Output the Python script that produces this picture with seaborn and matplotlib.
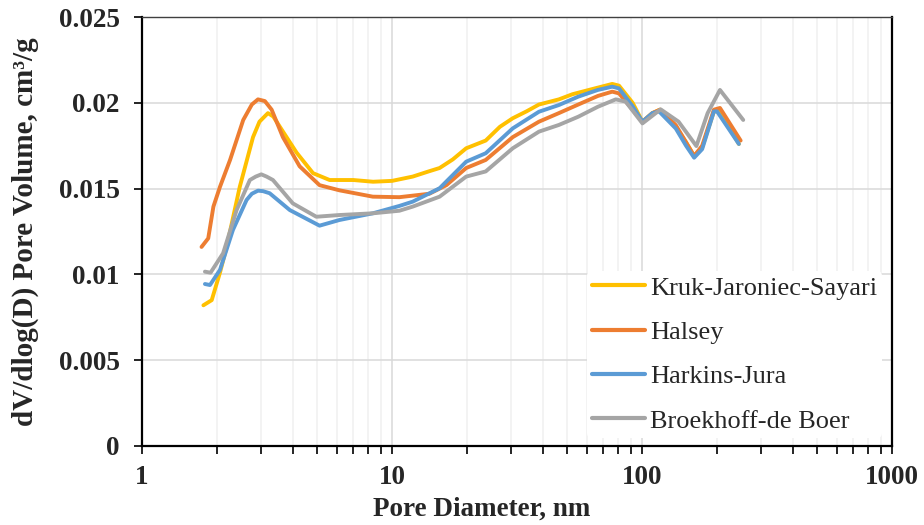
import matplotlib
matplotlib.use("Agg")
import matplotlib.pyplot as plt
import matplotlib.ticker as mticker
import seaborn as sns
import pandas as pd

# ---- data ----
kjs_x = [1.76, 1.90, 2.05, 2.18, 2.46, 2.78, 2.95, 3.19, 3.35, 3.56, 4.15, 4.83, 5.63, 7.0, 8.4,
         10.0, 12.1, 14.0, 15.5, 17.5, 19.8, 23.7, 27.0, 30.4, 34.5, 38.7, 46.5, 52.7, 63.2, 76.0,
         80.9, 91.7, 100.4, 110, 118, 136.5, 150, 161.6, 174, 193.9, 205, 244]
kjs_y = [0.0082, 0.0085, 0.0101, 0.0116, 0.0151, 0.0180, 0.0189, 0.0194, 0.0192, 0.0186, 0.0171,
         0.0159, 0.0155, 0.0155, 0.0154, 0.01545, 0.0157, 0.0160, 0.0162, 0.0167, 0.01735, 0.0178,
         0.0186, 0.0191, 0.0195, 0.0199, 0.0202, 0.0205, 0.0208, 0.0211, 0.0210, 0.0200, 0.0189,
         0.0194, 0.0196, 0.0186, 0.0177, 0.0169, 0.0174, 0.0195, 0.0195, 0.0176]

halsey_x = [1.73, 1.84, 1.93, 2.05, 2.25, 2.54, 2.75, 2.91, 3.10, 3.30, 3.66, 4.27, 5.13, 6.16,
            8.38, 10.7, 14.1, 16.5, 19.8, 23.7, 30.4, 38.7, 46.5, 55.6, 66.6, 76.0, 80.9, 91.7,
            100.4, 110, 118, 136.5, 150, 161.6, 174, 193.9, 205, 248]
halsey_y = [0.0116, 0.0121, 0.01395, 0.0151, 0.01667, 0.0190, 0.0199, 0.0202, 0.0201, 0.0196,
            0.0180, 0.0163, 0.0152, 0.0149, 0.01453, 0.0145, 0.0147, 0.0152, 0.0162, 0.01667,
            0.0180, 0.0189, 0.0194, 0.0199, 0.0204, 0.02065, 0.02055, 0.0196, 0.0189, 0.0194,
            0.0196, 0.0187, 0.0177, 0.0169, 0.0175, 0.0196, 0.0197, 0.0178]

hj_x = [1.785, 1.87, 2.05, 2.31, 2.62, 2.75, 2.91, 3.05, 3.24, 3.9, 5.13, 6.16, 8.38, 10.7, 12.1,
        15.5, 19.8, 23.7, 30.4, 38.7, 46.5, 55.6, 66.6, 76.0, 80.9, 91.7, 100.4, 110, 117, 136.5,
        150, 161.6, 174, 193.9, 199.5, 244]
hj_y = [0.00944, 0.00938, 0.01026, 0.01259, 0.01434, 0.0147, 0.01488, 0.01485, 0.01473, 0.01375,
        0.01284, 0.01317, 0.01356, 0.01399, 0.01424, 0.01502, 0.01657, 0.01706, 0.01851, 0.01948,
        0.01987, 0.02036, 0.02075, 0.02094, 0.02084, 0.0198, 0.0189, 0.0194, 0.0195, 0.0185,
        0.0175, 0.0168, 0.0173, 0.0195, 0.0195, 0.0176]

bdb_x = [1.785, 1.88, 2.11, 2.39, 2.70, 2.85, 3.0, 3.15, 3.34, 4.01, 4.98, 6.16, 8.38, 10.7, 12.1,
         15.5, 19.8, 23.7, 30.4, 38.7, 46.5, 55.6, 66.6, 78.5, 86.0, 100.4, 118.7, 140, 165, 183,
         205, 254]
bdb_y = [0.01016, 0.0101, 0.01123, 0.01375, 0.0155, 0.0157, 0.01583, 0.0157, 0.0155, 0.01414,
         0.01336, 0.01346, 0.01356, 0.01371, 0.01395, 0.01453, 0.0157, 0.0160, 0.01735, 0.01832,
         0.01871, 0.01919, 0.01977, 0.0202, 0.02007, 0.0188, 0.01962, 0.0189, 0.01748, 0.0194,
         0.02075, 0.0190]

names = ["Kruk-Jaroniec-Sayari", "Halsey", "Harkins-Jura", "Broekhoff-de Boer"]
colors = ["#FFC000", "#ED7D31", "#5B9BD5", "#A5A5A5"]

frames = []
for name, xs, ys in zip(names, [kjs_x, halsey_x, hj_x, bdb_x], [kjs_y, halsey_y, hj_y, bdb_y]):
    frames.append(pd.DataFrame({"x": xs, "y": ys, "series": name}))
df = pd.concat(frames, ignore_index=True)

sns.set_theme(style="white")
plt.rcParams["font.family"] = ["Liberation Serif", "DejaVu Serif"]

fig = plt.figure(figsize=(9.24, 5.25), dpi=100)
ax = fig.add_axes([0.1537, 0.1505, 0.8117, 0.8171])

sns.lineplot(data=df, x="x", y="y", hue="series", hue_order=names, palette=colors,
             estimator=None, sort=False, linewidth=2.8, ax=ax, legend=True)

ax.set_xscale("log")
ax.set_xlim(1, 1000)
ax.set_ylim(0, 0.025)
ax.yaxis.set_major_locator(mticker.MultipleLocator(0.005))
ax.xaxis.set_major_locator(mticker.LogLocator(base=10))
ax.xaxis.set_minor_locator(mticker.LogLocator(base=10, subs=range(2, 10)))
ax.xaxis.set_minor_formatter(mticker.NullFormatter())
ax.xaxis.set_major_formatter(mticker.FuncFormatter(lambda v, p: f"{int(round(v))}"))
ax.yaxis.set_major_formatter(mticker.FuncFormatter(lambda v, p: "0" if v == 0 else f"{v:g}"))

ax.grid(True, which="major", axis="both", color="#D9D9D9", linewidth=1.1)
ax.grid(True, which="minor", axis="x", color="#F0F0F0", linewidth=1.1)
ax.set_axisbelow(True)

for s in ["left", "bottom", "right"]:
    ax.spines[s].set_color("black")
    ax.spines[s].set_linewidth(1.6)
ax.spines["top"].set_color("#404040")
ax.spines["top"].set_linewidth(1.0)

ax.tick_params(axis="x", which="both", direction="out", length=5.5, width=1.2, color="black",
               bottom=True, pad=8)
ax.tick_params(axis="y", which="major", direction="out", length=6, width=1.2, color="black",
               left=True, pad=10)
for lab in ax.get_xticklabels() + ax.get_yticklabels():
    lab.set_fontsize(19.5)
    lab.set_fontweight("bold")

ax.set_xlabel("Pore Diameter, nm", fontsize=19.5, fontweight="bold")
ax.set_ylabel("dV/dlog(D) Pore Volume, cm³/g", fontsize=21, fontweight="bold")
ax.xaxis.set_label_coords(0.453, -0.118)
ax.yaxis.set_label_coords(-0.138, 0.5)

leg = ax.legend(loc="upper left", bbox_to_anchor=(0.635, 0.484), bbox_transform=fig.transFigure,
                fontsize=19, frameon=True, facecolor="white", edgecolor="none", framealpha=1,
                handlelength=2.0, handletextpad=0.2, labelspacing=0.79, borderpad=0.2,
                borderaxespad=0)
for line in leg.get_lines():
    line.set_linewidth(3.0)

fig.savefig("out.png", dpi=100)
